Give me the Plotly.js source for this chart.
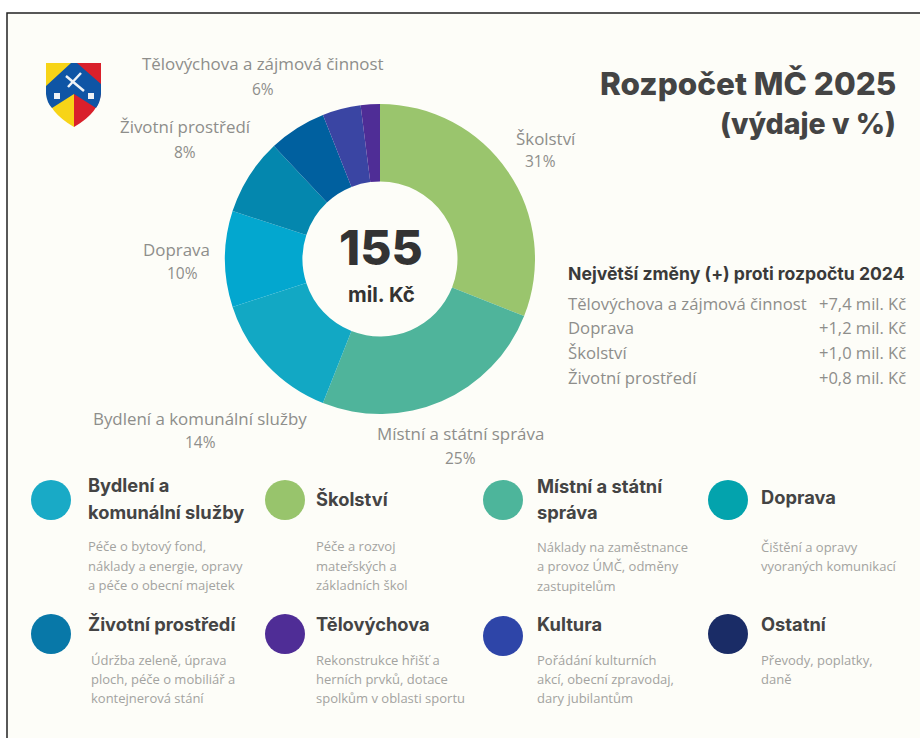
<!DOCTYPE html>
<html><head><meta charset="utf-8">
<script src="https://cdn.plot.ly/plotly-3.0.1.min.js"></script>
<style>html,body{margin:0;padding:0;background:#fff}#c{width:920px;height:738px}</style></head>
<body><div id="c"></div>
<script>
// Donut data
const sliceNames = ["Školství","Místní a státní správa","Bydlení a komunální služby","Doprava","Životní prostředí","Tělovýchova a zájmová činnost","Kultura","Ostatní"];
const sliceValues = [31,25,14,10,8,6,4,2];
const sliceColors = ["#9ac56d","#4fb49b","#12a8c4","#03a7cf","#0487ae","#00609f","#3a45a3","#4f2d96"];
// Outside labels
const labelNames = ["Tělovýchova a zájmová činnost","Životní prostředí","Školství","Doprava","Bydlení a komunální služby","Místní a státní správa"];
const labelPercents = ["6%","8%","31%","10%","14%","25%"];
const labelX = [263,185,546,176,200,460];
const labelX2 = [263,185,540,182,200,460];
const labelY1 = [63,126,138,249,418,433];
const labelY2 = [89,152,161,273,442,458];
// Changes table
const changeHead = "Největší změny (+) proti rozpočtu 2024";
const changeNames = ["Tělovýchova a zájmová činnost","Doprava","Školství","Životní prostředí"];
const changeValues = ["+7,4 mil. Kč","+1,2 mil. Kč","+1,0 mil. Kč","+0,8 mil. Kč"];
const changeY = [303,327,352,377];
// Legend cards
const cardColors = ["#19aac6","#98c46c","#4db59b","#03a3ad","#0878a8","#4f2d96","#2e45a8","#1a2c66"];
const cardCx = [51,285,503,728,51,285,503,728];
const cardCy = [500,500,500,500,634,634,636,634];
const cardX = [88,316,537,761,88,316,537,761];
const cardHeads = [["Bydlení a","komunální služby"],["Školství"],["Místní a státní","správa"],["Doprava"],["Životní prostředí"],["Tělovýchova"],["Kultura"],["Ostatní"]];
const cardHeadY = [[485,512],[499],[486,512],[497],[624],[624],[624],[624]];
const cardDesc = [
 ["Péče o bytový fond,","náklady a energie, opravy","a péče o obecní majetek"],
 ["Péče a rozvoj","mateřských a","základních škol"],
 ["Náklady na zaměstnance","a provoz ÚMČ, odměny","zastupitelům"],
 ["Čištění a opravy","vyoraných komunikací"],
 ["Údržba zeleně, úprava","ploch, péče o mobiliář a","kontejnerová stání"],
 ["Rekonstrukce hřišť a","herních prvků, dotace","spolkům v oblasti sportu"],
 ["Pořádání kulturních","akcí, obecní zpravodaj,","dary jubilantům"],
 ["Převody, poplatky,","daně"]];
const cardDescY = [[546,566,585],[546,566,585],[547,566,586],[547,566],[660,679,698],[660,679,698],[660,679,698],[660,679]];

const FONT="'Open Sans', sans-serif", HEAD="Inter, 'Liberation Sans', sans-serif";
const GREY="#8e8e8b";
const ann=[];
function T(text,x,y,size,color,family,anchor,weight){
  ann.push({text,x,y,xref:"x",yref:"y",showarrow:false,xanchor:anchor||"center",yanchor:"middle",
    font:{size,color,family,weight:weight||400},borderpad:0,borderwidth:0});
}
labelNames.forEach((n,i)=>{T(n,labelX[i],labelY1[i],16.9,GREY,FONT);T(labelPercents[i],labelX2[i],labelY2[i],15.5,GREY,FONT);});
T("155",381,247,48,"#333333",HEAD,"center",800);
T("mil. Kč",381,294,20.5,"#333333",HEAD,"center",700);
T("Rozpočet MČ 2025",896,83,31.5,"#444444",HEAD,"right",800);
T("(výdaje v %)",896,123,28.5,"#444444",HEAD,"right",800);
T(changeHead,568,273,17.6,"#3a3a3a",HEAD,"left",700);
changeNames.forEach((n,i)=>{T(n,568,changeY[i],16.7,GREY,FONT,"left");T(changeValues[i],906,changeY[i],16.5,GREY,FONT,"right");});
cardHeads.forEach((ls,i)=>ls.forEach((l,j)=>T(l,cardX[i],cardHeadY[i][j],18.3,"#444444",HEAD,"left",700)));
cardDesc.forEach((ls,i)=>ls.forEach((l,j)=>T(l,cardX[i]+(i===4?3:0),cardDescY[i][j],13,"#a3a3a0",FONT,"left")));

// Frame and coat of arms (pixel-mapped axes)
const shapes=[
 {type:"rect",x0:7,y0:13,x1:930,y1:750,fillcolor:"#fdfdf8",line:{color:"#222222",width:1.5},layer:"below"},
 {type:"path",path:"M46 63 L74 63 L74 127 Q48 112 46 92 Z",fillcolor:"#f7d417",line:{width:0}},
 {type:"path",path:"M74 63 L101 63 L101 92 Q100 112 74 127 Z",fillcolor:"#d9202b",line:{width:0}},
 {type:"path",path:"M71 63 L77 63 L101 84 L101 94 Q100 103 96 108 L74 94 L52 108 Q47 103 46 94 L46 86 Z",fillcolor:"#0f55a5",line:{width:0}},
 {type:"path",path:"M66 76 L84 91 M81 73 L68 87",line:{color:"#eef2f6",width:2.5}},
 {type:"rect",x0:54,y0:93,x1:60,y1:99,fillcolor:"#eef2f6",line:{width:0}},
 {type:"rect",x0:88,y0:93,x1:94,y1:99,fillcolor:"#eef2f6",line:{width:0}}
];
const traces=[
 {type:"scatter",mode:"markers",x:cardCx,y:cardCy,hoverinfo:"skip",showlegend:false,
  marker:{size:40,color:cardColors,line:{width:0}}},
 {type:"pie",labels:sliceNames,values:sliceValues,hole:0.5,sort:false,direction:"clockwise",rotation:0,
  textinfo:"none",showlegend:false,marker:{colors:sliceColors,line:{width:0}},
  domain:{x:[225/920,535/920],y:[1-414/738,1-104/738]}}
];
Plotly.newPlot("c",traces,{
 width:920,height:738,margin:{l:0,r:0,t:0,b:0},paper_bgcolor:"#ffffff",plot_bgcolor:"rgba(0,0,0,0)",showlegend:false,
 xaxis:{range:[0,920],visible:false,fixedrange:true},
 yaxis:{range:[738,0],visible:false,fixedrange:true},
 shapes:shapes,annotations:ann
},{displayModeBar:false,staticPlot:true});
</script></body></html>
